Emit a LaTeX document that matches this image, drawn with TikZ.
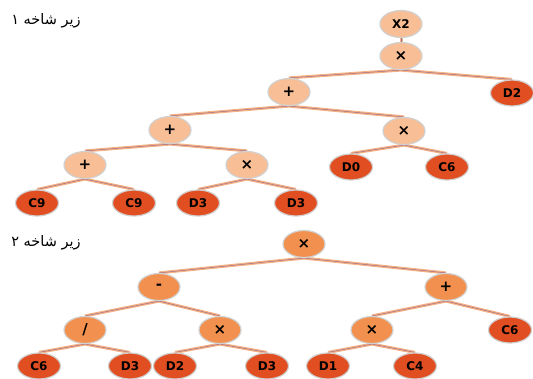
\documentclass[tikz,border=0pt]{standalone}
\usepackage{fontspec}
\setmainfont{DejaVu Sans}
\newfontfamily\arabicfont[Script=Arabic]{DejaVu Sans}
\TeXXeTstate=1
\usetikzlibrary{shapes.geometric,backgrounds}
\definecolor{peachA}{HTML}{F8BE95}
\definecolor{peachB}{HTML}{F2914F}
\definecolor{leafC}{HTML}{E04E22}
\definecolor{lineO}{HTML}{F5B184}
\definecolor{lineP}{HTML}{A0708C}
\tikzset{
  base/.style={ellipse, inner sep=0pt, draw=black!18, line width=1.2pt,
    minimum width=42pt, minimum height=27pt, font=\bfseries\fontsize{12}{12}\selectfont},
  opA/.style={base, fill=peachA},
  opB/.style={base, fill=peachB},
  big/.style={font=\bfseries\fontsize{15}{15}\selectfont},
  leaf/.style={base, fill=leafC, minimum width=43pt, minimum height=26pt},
  conn/.style={draw=lineP, line width=0.5pt, preaction={draw=lineO, line width=3pt}},
  ttl/.style={font=\arabicfont\fontsize{14.5}{14.5}\selectfont, inner sep=0pt}
}
\begin{document}
\begin{tikzpicture}[x=1pt,y=-1pt]
\useasboundingbox (0,0) rectangle (533,378);
% titles
\node[ttl] (title1) at (46,21) {\beginR زیر شاخه ۱\endR};
\node[ttl] (title2) at (46,243) {\beginR زیر شاخه ۲\endR};
% tree 1
\node[opA] (a1) at (401,24) {X2};
\node[opA,big] (a2) at (401,56) {×};
\node[opA,big] (a3) at (289,92) {+};
\node[leaf] (a4) at (512,93) {D2};
\node[opA,big] (a5) at (170,130) {+};
\node[opA,big] (a6) at (404,131) {×};
\node[opA,big] (a7) at (85,165) {+};
\node[opA,big] (a8) at (247,165) {×};
\node[leaf] (a9) at (351,167) {D0};
\node[leaf] (a10) at (447,167) {C6};
\node[leaf] (a11) at (37,203) {C9};
\node[leaf] (a12) at (134,203) {C9};
\node[leaf] (a13) at (198,203) {D3};
\node[leaf] (a14) at (296,203) {D3};
% tree 2
\node[opB,big] (b1) at (304,244) {×};
\node[opB,big] (b2) at (159,287) {-};
\node[opB,big] (b3) at (446,287) {+};
\node[opB,big] (b4) at (85,330) {/};
\node[opB,big] (b5) at (220,330) {×};
\node[opB,big] (b6) at (372,330) {×};
\node[leaf] (b7) at (510,330) {C6};
\node[leaf] (b8) at (39,366) {C6};
\node[leaf] (b9) at (130,366) {D3};
\node[leaf] (b10) at (175,366) {D2};
\node[leaf] (b11) at (267,366) {D3};
\node[leaf] (b12) at (328,366) {D1};
\node[leaf] (b13) at (415,366) {C4};
\begin{pgfonlayer}{background}
\draw[conn] (a1.south) -- (a2.north);
\draw[conn] (a2.south) -- (a3.north);
\draw[conn] (a2.south) -- (a4.north);
\draw[conn] (a3.south) -- (a5.north);
\draw[conn] (a3.south) -- (a6.north);
\draw[conn] (a5.south) -- (a7.north);
\draw[conn] (a5.south) -- (a8.north);
\draw[conn] (a6.south) -- (a9.north);
\draw[conn] (a6.south) -- (a10.north);
\draw[conn] (a7.south) -- (a11.north);
\draw[conn] (a7.south) -- (a12.north);
\draw[conn] (a8.south) -- (a13.north);
\draw[conn] (a8.south) -- (a14.north);
\draw[conn] (b1.south) -- (b2.north);
\draw[conn] (b1.south) -- (b3.north);
\draw[conn] (b2.south) -- (b4.north);
\draw[conn] (b2.south) -- (b5.north);
\draw[conn] (b3.south) -- (b6.north);
\draw[conn] (b3.south) -- (b7.north);
\draw[conn] (b4.south) -- (b8.north);
\draw[conn] (b4.south) -- (b9.north);
\draw[conn] (b5.south) -- (b10.north);
\draw[conn] (b5.south) -- (b11.north);
\draw[conn] (b6.south) -- (b12.north);
\draw[conn] (b6.south) -- (b13.north);
\end{pgfonlayer}
\end{tikzpicture}
\end{document}
